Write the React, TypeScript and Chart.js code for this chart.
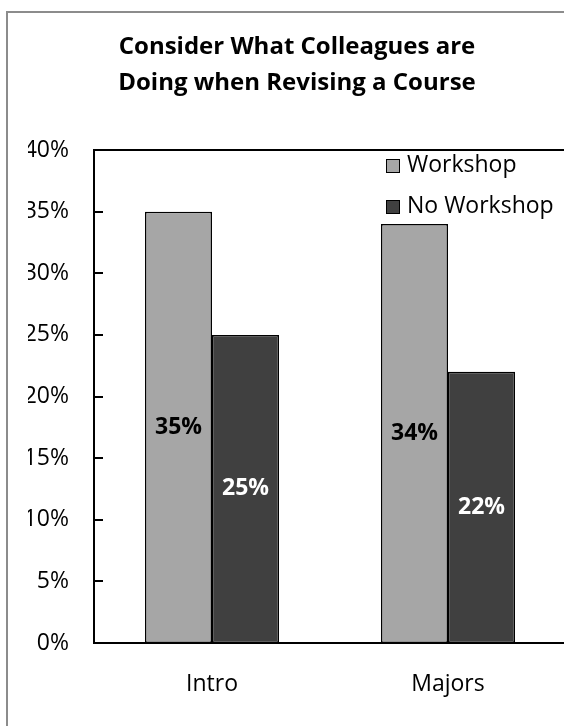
import React, { useEffect, useRef } from "react";
import { Chart, registerables } from "chart.js";

Chart.register(...registerables);

const categories = ["Intro", "Majors"];
const seriesNames = ["Workshop", "No Workshop"];
const workshopValues = [35, 34];
const noWorkshopValues = [25, 22];
const seriesColors = ["#a6a6a6", "#404040"];
const labelColors = ["#000000", "#ffffff"];
const titleLines = ["Consider What Colleagues are", "Doing when Revising a Course"];
const yMin = 0;
const yMax = 40;
const yStep = 5;

const FONT = "'Open Sans', sans-serif";

const customPlugin = {
  id: "customDraw",
  afterDatasetsDraw(chart: any) {
    const { ctx, chartArea: a, scales } = chart;
    const ys = scales.y;
    ctx.save();
    ctx.strokeStyle = "#000";
    ctx.lineWidth = 2;
    ctx.strokeRect(a.left, a.top, a.right - a.left, a.bottom - a.top);
    ys.ticks.forEach((t: any) => {
      const py = Math.round(ys.getPixelForValue(t.value));
      ctx.beginPath();
      ctx.moveTo(a.left, py);
      ctx.lineTo(a.left + 9, py);
      ctx.stroke();
    });
    ctx.font = `bold 23px ${FONT}`;
    ctx.textAlign = "center";
    ctx.textBaseline = "middle";
    chart.data.datasets.forEach((ds: any, di: number) => {
      const meta = chart.getDatasetMeta(di);
      meta.data.forEach((bar: any, i: number) => {
        const p = bar.getProps(["x", "y", "base"], true);
        ctx.fillStyle = labelColors[di];
        ctx.fillText(ds.data[i] + "%", p.x, (p.y + p.base) / 2);
      });
    });
    ctx.font = `23px ${FONT}`;
    ctx.textAlign = "left";
    chart.data.datasets.forEach((ds: any, di: number) => {
      const bx = a.left + 292;
      const by = a.top + 9 + di * 41;
      ctx.fillStyle = ds.backgroundColor;
      ctx.fillRect(bx, by, 14, 14);
      ctx.lineWidth = 1;
      ctx.strokeStyle = "#000";
      ctx.strokeRect(bx + 0.5, by + 0.5, 13, 13);
      ctx.fillStyle = "#000";
      ctx.fillText(ds.label, bx + 21, by + 6);
    });
    ctx.restore();
  },
};

export default function App() {
  const ref = useRef<HTMLCanvasElement | null>(null);
  useEffect(() => {
    if (!ref.current) return;
    const chart = new Chart(ref.current, {
      type: "bar",
      data: {
        labels: categories,
        datasets: [
          {
            label: seriesNames[0],
            data: workshopValues,
            backgroundColor: seriesColors[0],
            borderColor: "#000",
            borderWidth: 1.5,
            borderSkipped: false,
            categoryPercentage: 0.568,
            barPercentage: 1,
          },
          {
            label: seriesNames[1],
            data: noWorkshopValues,
            backgroundColor: seriesColors[1],
            borderColor: "#000",
            borderWidth: 1.5,
            borderSkipped: false,
            categoryPercentage: 0.568,
            barPercentage: 1,
          },
        ],
      },
      options: {
        responsive: false,
        animation: false,
        layout: { padding: { left: 28, right: 34, top: 0, bottom: 0 } },
        plugins: {
          legend: { display: false },
          tooltip: { enabled: false },
          title: {
            display: true,
            text: titleLines,
            color: "#000",
            font: { family: FONT, size: 24, weight: "bold", lineHeight: 1.5 },
            padding: { top: 29, bottom: 49 },
          },
        },
        scales: {
          x: {
            grid: { display: false, drawTicks: false },
            border: { display: false },
            ticks: { color: "#000", font: { family: FONT, size: 23 }, padding: 28 },
            afterFit: (s: any) => {
              s.height = 83;
            },
          },
          y: {
            min: yMin,
            max: yMax,
            grid: { display: false, drawTicks: false },
            border: { display: false },
            ticks: {
              stepSize: yStep,
              color: "#000",
              font: { family: FONT, size: 23 },
              padding: 25,
              callback: (v: any) => v + "%",
            },
            afterFit: (s: any) => {
              s.width = 66;
            },
          },
        },
      },
      plugins: [customPlugin],
    });
    return () => chart.destroy();
  }, []);

  return (
    <div style={{ position: "fixed", left: 0, top: 0, width: 564, height: 726, overflow: "hidden", background: "#fff" }}>
      <div
        style={{
          position: "absolute",
          left: 6,
          top: 11,
          width: 700,
          height: 900,
          borderTop: "2px solid #8c8c8c",
          borderLeft: "2px solid #8c8c8c",
        }}
      />
      <canvas ref={ref} width={600} height={726} style={{ position: "absolute", left: 0, top: 0 }} />
    </div>
  );
}
